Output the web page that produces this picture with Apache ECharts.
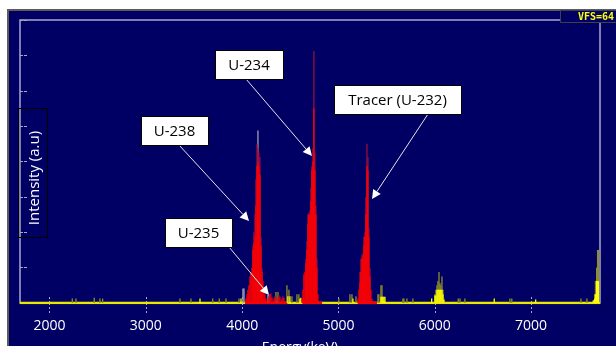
<!DOCTYPE html>
<html>
<head>
<meta charset="utf-8">
<script src="https://cdn.jsdelivr.net/npm/echarts@6/dist/echarts.min.js"></script>
<style>
  html, body { margin: 0; padding: 0; background: #fff; width: 616px; height: 346px; overflow: hidden; }
  #panel { position: absolute; left: 7px; top: 9px; width: 620px; height: 350px; background: #000064;
           border-left: 2px solid #5c5c5c; border-top: 2px solid #5c5c5c; }
  #chart { position: absolute; left: 0; top: 0; width: 616px; height: 346px; }
</style>
</head>
<body>
<div id="panel"></div>
<div id="chart"></div>
<script>
// energy axis (keV) and vertical full scale (counts)
const energyTicks = [2000, 3000, 4000, 5000, 6000, 7000];
const energyMin = 1693;
const energyMax = 7716;
const fullScale = 64;

// regions of interest, drawn red on the baseline
const roiRanges = [[4030, 4470], [4625, 4830], [5200, 5400]];

// channel counts inside the ROIs [keV, counts]
const redCounts = [
  [4039, 1], [4050, 2], [4060, 3], [4070, 4], [4081, 6], [4091, 7], [4102, 8], [4112, 12],
  [4122, 13.5], [4133, 15], [4143, 22], [4154, 31], [4164, 31.6], [4174, 31], [4185, 29],
  [4195, 13], [4206, 7], [4216, 5], [4226, 3], [4237, 2], [4247, 1],
  [4268, 1], [4289, 2], [4309, 1.3], [4330, 1], [4351, 1.4], [4372, 1], [4392, 1.4], [4413, 1], [4434, 1.2],
  [4621, 1], [4631, 3], [4641, 6.5], [4652, 7], [4662, 9], [4672, 12], [4683, 18], [4693, 20],
  [4704, 20], [4714, 23], [4724, 30], [4735, 32], [4745, 44], [4755, 30], [4766, 20], [4776, 8], [4787, 2],
  [5202, 1], [5213, 3], [5223, 4.5], [5233, 7], [5244, 10], [5254, 10.5], [5264, 13], [5275, 15],
  [5285, 20], [5296, 31], [5306, 30], [5316, 15], [5327, 6], [5337, 3], [5348, 1]
];
// upper envelope (dark red)
const redTops = [
  [4112, 13], [4122, 16], [4133, 20], [4143, 28], [4154, 36], [4164, 35], [4174, 34], [4185, 33],
  [4195, 15], [4206, 8],
  [4278, 1.5], [4299, 2.2], [4340, 1.5], [4382, 1.8], [4423, 1.5],
  [4662, 10], [4672, 14], [4683, 20], [4693, 20.3], [4704, 21], [4714, 26], [4724, 31], [4735, 35],
  [4745, 57], [4755, 34], [4766, 22], [4776, 10],
  [5223, 7], [5233, 10], [5244, 11], [5254, 11.2], [5264, 15], [5275, 16], [5285, 24], [5296, 36],
  [5306, 33], [5316, 17], [5327, 8]
];

// channel counts outside the ROIs
const yellowCounts = [
  [3562, 1], [3988, 1], [4475, 1.5], [4496, 1.5], [4600, 1], [4610, 1.2], [5150, 1],
  [5441, 1.4], [5452, 1.4], [5462, 1.4], [5472, 1.4], [5483, 1.4], [5968, 1],
  [6002, 1.7], [6012, 1.7], [6023, 3], [6033, 3], [6044, 3], [6054, 3], [6064, 3], [6075, 3],
  [6085, 2], [6095, 0.7], [6618, 1], [7048, 0.8],
  [7646, 0.6], [7660, 1], [7669, 2], [7681, 5], [7691, 5], [7700, 5]
];
const yellowTops = [
  [2236, 1], [2274, 1], [2464, 1.2], [2523, 1], [2551, 1], [3354, 1], [3468, 1], [3694, 1],
  [3762, 1], [3832, 1], [3967, 1], [4351, 2.5], [4372, 2.5], [4465, 4], [4486, 3], [4517, 1.5],
  [4569, 2], [4589, 2], [5004, 1], [5119, 2], [5140, 2], [5182, 1.5], [5410, 2], [5420, 2],
  [5441, 4], [5452, 4], [5669, 1], [5680, 1], [5711, 1], [5773, 1],
  [6002, 2], [6012, 3], [6023, 4], [6033, 5], [6044, 7], [6054, 4.5], [6064, 4], [6075, 6],
  [6085, 3], [6095, 1], [6244, 1], [6262, 1], [6313, 1], [6780, 1], [6800, 1], [7518, 1], [7580, 1],
  [7660, 2], [7669, 5], [7681, 8], [7691, 12], [7700, 12]
];
const greyTops = [[4008, 3.3], [4019, 3.3], [4164, 39], [4268, 1.8], [4278, 1.8]];

// callouts: box [x, y, w, h], arrow from/tip in px
const callouts = [
  { text: 'U-234', box: [215, 50, 68, 29], from: [246, 79], tip: [312, 156] },
  { text: 'Tracer (U-232)', box: [334, 85, 127, 29], from: [428, 114], tip: [372, 199] },
  { text: 'U-238', box: [141, 116, 67, 29], from: [179, 145], tip: [249, 221] },
  { text: 'U-235', box: [165, 218, 67, 29], from: [229, 247], tip: [269, 295] }
];

const navy = '#000064';
const frame = '#a8a8cc';
const font = 'Open Sans';

function bars(data, color, z) {
  return {
    type: 'bar', data: data, barWidth: 1.3, barGap: '-100%',
    itemStyle: { color: color }, z: z, silent: true
  };
}

function baseline(range, color) {
  return {
    type: 'line', data: [[range[0], 0], [range[1], 0]], symbol: 'none', z: 1, silent: true,
    lineStyle: { color: color, width: 2.5 }
  };
}

function arrow(c) {
  const dx = c.tip[0] - c.from[0], dy = c.tip[1] - c.from[1];
  const len = Math.sqrt(dx * dx + dy * dy);
  const ux = dx / len, uy = dy / len;
  const bx = c.tip[0] - ux * 9, by = c.tip[1] - uy * 9;
  const nx = -uy * 4.5, ny = ux * 4.5;
  return [
    { type: 'line', shape: { x1: c.from[0], y1: c.from[1], x2: bx, y2: by },
      style: { stroke: '#e4e4f0', lineWidth: 1 }, z: 50 },
    { type: 'polygon', shape: { points: [c.tip, [bx + nx, by + ny], [bx - nx, by - ny]] },
      style: { fill: '#ffffff' }, z: 50 }
  ];
}

const graphics = [];
callouts.forEach(c => {
  graphics.push({
    type: 'rect', shape: { x: c.box[0] + 0.5, y: c.box[1] + 0.5, width: c.box[2], height: c.box[3] },
    style: { fill: '#fff', stroke: '#000', lineWidth: 1 }, z: 60
  });
  graphics.push({
    type: 'text', x: c.box[0] + c.box[2] / 2, y: c.box[1] + c.box[3] / 2 + 1, z: 61,
    style: { text: c.text, fill: '#000', font: '15px "Open Sans"', align: 'center', verticalAlign: 'middle' }
  });
  arrow(c).forEach(g => graphics.push(g));
});
// y axis title box
graphics.push({
  type: 'rect', shape: { x: 18.5, y: 108.5, width: 29, height: 129 },
  style: { fill: 'none', stroke: '#000', lineWidth: 1 }, z: 40
});
graphics.push({
  type: 'text', x: 35, y: 178, rotation: Math.PI / 2, z: 41,
  style: { text: 'Intensity (a.u)', fill: '#fff', font: '15px "Open Sans"', align: 'center', verticalAlign: 'middle' }
});
// full-scale badge
graphics.push({
  type: 'rect', shape: { x: 560.5, y: 10.5, width: 60, height: 12 },
  style: { fill: navy, stroke: '#40404c', lineWidth: 1 }, z: 40
});
graphics.push({
  type: 'text', x: 614, y: 17, z: 41,
  style: { text: 'VFS=' + fullScale, fill: '#ffff00', font: 'bold 10px "DejaVu Sans Mono"', align: 'right', verticalAlign: 'middle' }
});

const chart = echarts.init(document.getElementById('chart'));
chart.setOption({
  animation: false,
  backgroundColor: 'transparent',
  grid: {
    left: 20, right: 16, top: 20, bottom: 43, outerBoundsMode: 'none', containLabel: false,
    show: true, borderColor: frame, borderWidth: 1.5
  },
  xAxis: [{
    type: 'value', min: energyMin, max: energyMax,
    axisLine: { show: false },
    splitLine: { show: false },
    axisTick: { customValues: energyTicks, length: 10, lineStyle: { color: frame, type: [2, 2] } },
    axisLabel: {
      customValues: energyTicks, color: '#fff', fontFamily: font, fontSize: 14, margin: 16,
      formatter: v => String(v)
    },
    name: 'Energy(keV)', nameLocation: 'middle', nameGap: 38,
    nameTextStyle: { color: '#fff', fontFamily: font, fontSize: 14, padding: [0, 20, 0, 0] }
  }, {
    type: 'value', min: energyMin, max: energyMax, position: 'bottom',
    axisLine: { show: false }, splitLine: { show: false }, axisLabel: { show: false },
    axisTick: { customValues: energyTicks, inside: true, length: 8, lineStyle: { color: frame, type: [2, 2] } }
  }],
  yAxis: {
    type: 'value', min: 0, max: fullScale, interval: 8,
    axisLine: { show: false }, splitLine: { show: false }, axisLabel: { show: false },
    axisTick: { show: true, inside: true, length: 7, lineStyle: { color: frame, type: [3, 1] } }
  },
  series: [
    baseline([energyMin, energyMax], '#e8e800'),
    ...roiRanges.map(r => baseline(r, '#ff0000')),
    bars(greyTops, '#a0a0b4', 3),
    bars(yellowTops, '#8e8e2c', 4),
    bars(redTops, '#9c0c3c', 4),
    bars(yellowCounts, '#ffff00', 5),
    bars(redCounts, '#ff0000', 5)
  ],
  graphic: graphics
});
</script>
</body>
</html>
